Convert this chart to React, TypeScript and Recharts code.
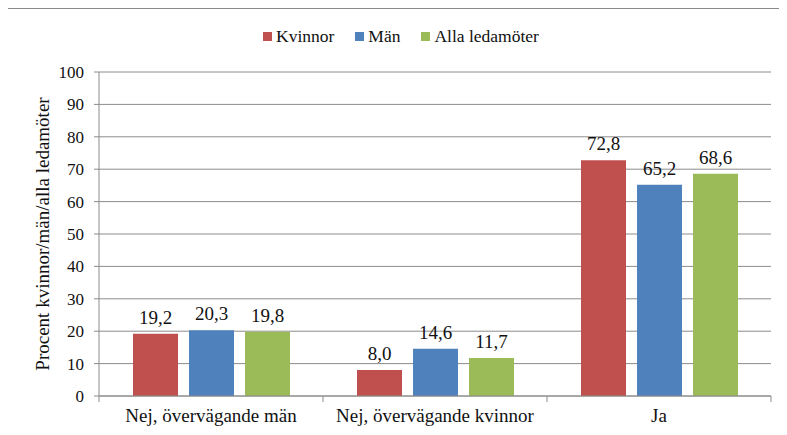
import { Bar, BarChart, CartesianGrid, LabelList, XAxis, YAxis } from 'recharts';

const categories = ['Nej, övervägande män', 'Nej, övervägande kvinnor', 'Ja'];
const kvinnor = [19.2, 8.0, 72.8];
const man = [20.3, 14.6, 65.2];
const alla = [19.8, 11.7, 68.6];
const yTicks = [0, 10, 20, 30, 40, 50, 60, 70, 80, 90, 100];

const series = [
  { key: 'kvinnor', name: 'Kvinnor', color: '#C0504D' },
  { key: 'man', name: 'Män', color: '#4F81BD' },
  { key: 'alla', name: 'Alla ledamöter', color: '#9BBB59' },
];

const data = categories.map((name, i) => ({
  name,
  kvinnor: kvinnor[i],
  man: man[i],
  alla: alla[i],
}));

const FONT = '"Liberation Serif", "Times New Roman", serif';
const AXIS = '#8c8c8c';

const fmt = (v: any) => Number(v).toFixed(1).replace('.', ',');

function CategoryTick(props: any) {
  const { x, y, payload, index } = props;
  const off = payload?.offset ?? 0;
  const last = index === categories.length - 1;
  return (
    <g>
      <line x1={x - off} x2={x - off} y1={y} y2={y + 6} stroke={AXIS} />
      {last && <line x1={x + off} x2={x + off} y1={y} y2={y + 6} stroke={AXIS} />}
      <text x={x} y={y + 26} textAnchor="middle" style={{ fontSize: 19, fontFamily: FONT }} fill="#111">
        {payload.value}
      </text>
    </g>
  );
}

function YLabel(props: any) {
  const vb = props.viewBox || {};
  const cx = vb.x + 22;
  const cy = vb.y + vb.height / 2;
  return (
    <text
      x={cx}
      y={cy}
      transform={`rotate(-90, ${cx}, ${cy})`}
      textAnchor="middle"
      dominantBaseline="central"
      style={{ fontSize: 19, fontFamily: FONT }}
      fill="#111"
    >
      Procent kvinnor/män/alla ledamöter
    </text>
  );
}

export default function App() {
  return (
    <div
      style={{
        position: 'relative',
        width: 787,
        height: 435,
        margin: -8,
        overflow: 'hidden',
        background: '#fff',
        fontFamily: FONT,
      }}
    >
      <div
        style={{
          position: 'absolute',
          left: 5,
          top: 7,
          width: 820,
          height: 460,
          border: '2px solid #8a8a8a',
        }}
      />
      {/* legend */}
      <div
        style={{
          position: 'absolute',
          top: 26,
          left: 263,
          display: 'flex',
          alignItems: 'center',
          fontSize: 17.5,
          lineHeight: '20px',
          color: '#111',
        }}
      >
        {series.map((s) => (
          <div key={s.key} style={{ display: 'flex', alignItems: 'center', marginRight: 21 }}>
            <span style={{ width: 9, height: 9, background: s.color, marginRight: 4 }} />
            <span>{s.name}</span>
          </div>
        ))}
      </div>
      <div style={{ position: 'absolute', left: 0, top: 0 }}>
        <BarChart
          width={787}
          height={435}
          data={data}
          margin={{ top: 72, right: 16, left: 20, bottom: 0 }}
          barCategoryGap={34}
          barGap={11}
        >
          <CartesianGrid vertical={false} stroke={AXIS} />
          <XAxis
            dataKey="name"
            height={39}
            axisLine={{ stroke: AXIS }}
            tickLine={false}
            tickSize={0}
            tickMargin={0}
            interval={0}
            tick={<CategoryTick />}
          />
          <YAxis
            width={79}
            domain={[0, 100]}
            ticks={yTicks}
            interval={0}
            axisLine={{ stroke: AXIS }}
            tickLine={{ stroke: AXIS }}
            tickSize={5}
            tickMargin={10}
            tick={{ fill: '#111', fontSize: 17, fontFamily: FONT }}
            label={<YLabel />}
          />
          {series.map((s) => (
            <Bar key={s.key} dataKey={s.key} name={s.name} fill={s.color} isAnimationActive={false}>
              <LabelList
                dataKey={s.key}
                position="top"
                offset={10}
                formatter={fmt}
                fill="#111"
                fontSize={19}
                fontFamily={FONT}
              />
            </Bar>
          ))}
        </BarChart>
      </div>
    </div>
  );
}
